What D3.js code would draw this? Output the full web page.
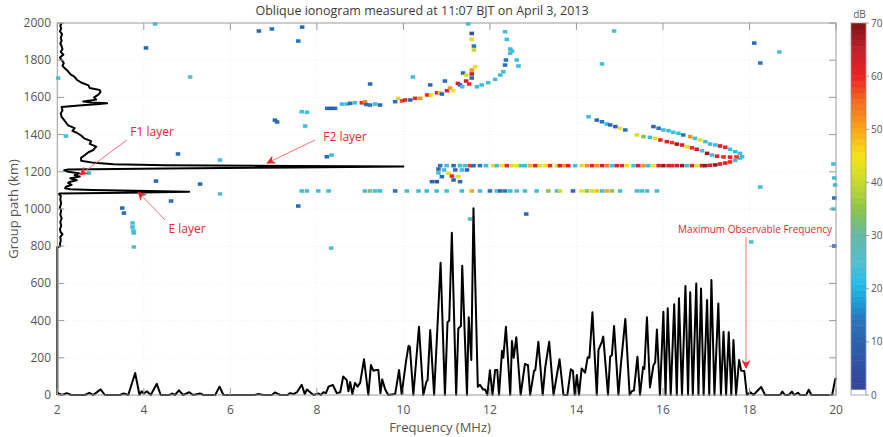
<!DOCTYPE html>
<html><head><meta charset="utf-8">
<script src="https://cdn.jsdelivr.net/npm/d3@7/dist/d3.min.js"></script>
<style>
html,body{margin:0;padding:0;background:#fff;}
svg{display:block;font-family:"Open Sans",sans-serif;}
</style></head><body>
<svg id="chart" width="883" height="437"></svg>
<script>
// ---- tick labels ----
const freqTicks = [2, 4, 6, 8, 10, 12, 14, 16, 18, 20];
const pathTicks = [0, 200, 400, 600, 800, 1000, 1200, 1400, 1600, 1800, 2000];
const dbTicks = [0, 10, 20, 30, 40, 50, 60, 70];

// ---- echo-amplitude spectrum along the bottom: [frequency MHz, amplitude] ----
const spectrum = [[2.00,12],[2.10,0],[2.22,10],[2.33,0],[2.64,0],[2.74,12],[2.83,0],[3.00,30],[3.10,0],[3.45,0],[3.53,8],[3.64,0],[3.80,118],[3.90,0],[3.95,20],[4.00,8],[4.07,20],[4.16,0],[4.30,60],[4.39,0],[4.59,0],[4.65,8],[4.72,0],[4.81,25],[4.91,0],[5.05,15],[5.14,0],[5.30,8],[5.38,0],[5.65,0],[5.75,45],[5.84,0],[6.57,0],[6.65,5],[6.76,0],[6.96,0],[7.03,14],[7.15,0],[7.32,0],[7.38,10],[7.46,5],[7.54,15],[7.65,55],[7.72,5],[7.77,30],[7.92,0],[8.04,8],[8.09,0],[8.15,15],[8.21,10],[8.27,45],[8.37,54],[8.46,10],[8.54,15],[8.61,100],[8.69,80],[8.73,20],[8.77,70],[8.82,5],[8.88,65],[8.94,45],[9.00,65],[9.09,192],[9.19,0],[9.25,161],[9.31,130],[9.37,135],[9.42,135],[9.47,10],[9.51,84],[9.58,30],[9.65,0],[9.81,5],[9.90,134],[9.96,5],[10.06,180],[10.12,265],[10.15,258],[10.23,0],[10.36,367],[10.46,0],[10.53,70],[10.56,80],[10.62,349],[10.71,0],[10.86,711],[10.96,0],[11.02,391],[11.06,400],[11.12,872],[11.22,0],[11.27,358],[11.33,371],[11.36,695],[11.47,0],[11.51,418],[11.57,188],[11.62,1004],[11.72,45],[11.77,55],[11.84,30],[11.89,30],[11.94,0],[12.00,133],[12.06,0],[12.12,134],[12.17,134],[12.21,0],[12.28,238],[12.31,200],[12.37,367],[12.47,0],[12.51,290],[12.55,200],[12.61,310],[12.71,0],[12.81,167],[12.88,160],[12.93,0],[13.02,130],[13.05,135],[13.12,286],[13.22,0],[13.28,150],[13.37,286],[13.47,0],[13.61,192],[13.70,0],[13.79,0],[13.87,138],[13.92,130],[13.96,0],[14.01,107],[14.06,0],[14.12,143],[14.20,120],[14.26,203],[14.30,200],[14.37,445],[14.47,0],[14.51,242],[14.59,287],[14.62,314],[14.73,0],[14.78,206],[14.82,215],[14.87,371],[14.97,0],[15.03,170],[15.13,409],[15.23,0],[15.28,20],[15.33,25],[15.41,206],[15.47,0],[15.54,150],[15.57,140],[15.63,418],[15.70,40],[15.78,160],[15.82,175],[15.86,352],[15.93,0],[16.01,447],[16.06,0],[16.11,466],[16.18,0],[16.26,488],[16.32,0],[16.37,520],[16.44,0],[16.52,586],[16.58,0],[16.63,552],[16.69,0],[16.77,600],[16.82,0],[16.88,572],[16.94,0],[17.02,511],[17.07,0],[17.12,618],[17.19,0],[17.28,492],[17.34,0],[17.40,340],[17.46,0],[17.52,337],[17.58,0],[17.63,296],[17.69,0],[17.76,188],[17.81,130],[17.88,129],[17.94,0],[18.02,15],[18.09,0],[18.27,43],[18.36,0],[18.71,0],[18.76,18],[18.82,0],[18.91,0],[18.98,18],[19.03,0],[19.12,12],[19.17,0],[19.31,0],[19.37,28],[19.43,0],[19.91,0],[19.98,82],[20.00,92]];

// ---- echo-power profile along the left: [group path km, frequency-axis value] ----
const profile = [[0,2.00],[795,2.00],[800,2.07],[810,2.06],[830,2.08],[850,2.07],[865,2.12],[875,2.08],[890,2.06],[910,2.09],[930,2.07],[950,2.10],[970,2.07],[990,2.09],[1010,2.06],[1030,2.09],[1050,2.07],[1070,2.08],[1080,2.04],[1084,2.06],[1088,3.6],[1093,5.05],[1098,3.8],[1102,2.8],[1106,2.3],[1112,2.18],[1120,2.20],[1130,2.33],[1140,2.25],[1147,2.30],[1155,2.45],[1165,2.30],[1174,2.52],[1182,2.40],[1192,2.50],[1200,2.25],[1208,2.16],[1213,2.25],[1218,4.5],[1223,7.5],[1228,10.0],[1231,7.5],[1235,4.5],[1240,3.3],[1248,2.85],[1260,2.55],[1275,2.55],[1290,2.64],[1305,2.72],[1317,2.83],[1335,2.90],[1350,2.75],[1365,2.78],[1380,2.62],[1395,2.55],[1410,2.45],[1420,2.35],[1435,2.40],[1450,2.25],[1465,2.20],[1480,2.15],[1495,2.10],[1515,2.08],[1530,2.12],[1548,2.10],[1556,2.5],[1563,2.9],[1568,3.15],[1573,2.8],[1578,2.6],[1588,2.9],[1600,2.85],[1615,2.95],[1630,3.0],[1640,2.98],[1650,2.75],[1665,2.72],[1680,2.55],[1695,2.45],[1710,2.40],[1725,2.30],[1740,2.25],[1755,2.18],[1770,2.12],[1785,2.15],[1800,2.10],[1815,2.06],[1830,2.14],[1845,2.08],[1860,2.12],[1875,2.10],[1890,2.07],[1905,2.10],[1920,2.08],[1940,2.11],[1955,2.06],[1970,2.09],[1985,2.07],[2000,2.10]];

// ---- ionogram echoes: [frequency MHz, group path km, power dB] ----
const f2LowRay = [[10.85,1233,14],[11.00,1233,24],[11.16,1233,12],[11.31,1233,22],[11.43,1233,25],[11.54,1233,58],[11.62,1233,12],[11.77,1233,14],[11.91,1233,22],[12.08,1233,42],[12.16,1233,24],[12.28,1233,44],[12.39,1233,60],[12.51,1233,42],[12.62,1233,45],[12.72,1233,24],[12.81,1233,22],[12.93,1233,50],[13.05,1233,62],[13.16,1233,42],[13.28,1233,44],[13.39,1233,60],[13.55,1233,42],[13.62,1233,63],[13.72,1233,52],[13.81,1233,62],[13.97,1233,24],[14.12,1233,43],[14.24,1233,52],[14.36,1233,62],[14.47,1233,52],[14.59,1233,64],[14.70,1233,54],[14.82,1233,24],[14.93,1233,62],[15.05,1233,60],[15.17,1233,43],[15.32,1233,24],[15.43,1233,62],[15.55,1233,52],[15.66,1233,24],[15.78,1233,44],[15.90,1233,62],[16.01,1233,68],[16.13,1233,63],[16.21,1233,60],[16.32,1233,64],[16.44,1233,68],[16.55,1233,24],[16.67,1233,62],[16.78,1233,44],[16.90,1233,63],[16.98,1233,68],[17.09,1235,62],[17.21,1237,68],[17.32,1242,63],[17.44,1247,62],[17.55,1253,60],[17.67,1261,24],[17.78,1274,22]];
const f2Foot = [[10.81,1215,12],[10.81,1194,24],[10.89,1174,12],[10.94,1210,22],[11.04,1192,43],[11.12,1177,60],[11.16,1156,12],[11.27,1174,42],[11.31,1147,12],[10.66,1147,10],[10.77,1147,6],[11.20,1210,14],[11.35,1210,24],[11.47,1210,12]];
const f2HighRayA = [[14.28,1496,24],[14.47,1478,12],[14.59,1469,14],[14.70,1457,22],[14.78,1452,12],[14.90,1443,10],[15.01,1434,44],[15.13,1425,14],[15.40,1398,42],[15.55,1389,34],[15.70,1385,24],[15.82,1380,43],[15.94,1371,60],[16.09,1362,62],[16.21,1357,58],[16.32,1349,67],[16.44,1344,62],[16.55,1335,44],[16.67,1329,60],[16.78,1321,63],[16.90,1313,24],[17.02,1299,67],[17.13,1290,24],[17.25,1284,62],[17.40,1280,60],[17.55,1279,62],[17.70,1280,58]];
const f2HighRayB = [[15.78,1443,12],[15.90,1434,14],[16.01,1425,24],[16.13,1421,22],[16.24,1412,24],[16.36,1407,22],[16.47,1398,14],[16.63,1389,52],[16.74,1380,24],[16.86,1371,44],[16.98,1362,24],[17.09,1349,22],[17.21,1344,24],[17.32,1339,62],[17.44,1332,60],[17.55,1321,24],[17.67,1308,22],[17.78,1299,24],[17.83,1281,24]];
const upperTrace = [[8.24,1541,12],[8.33,1541,8],[8.42,1541,12],[8.58,1564,24],[8.69,1564,22],[8.77,1568,12],[8.88,1571,24],[9.04,1571,60],[9.11,1577,52],[9.14,1562,12],[9.23,1559,14],[9.35,1564,24],[9.46,1559,12],[9.81,1577,14],[9.88,1595,42],[9.97,1581,58],[10.04,1586,62],[10.16,1586,12],[10.27,1595,60],[10.39,1595,52],[10.55,1613,60],[10.64,1613,44],[10.62,1667,12],[10.78,1625,62],[10.85,1625,42],[10.89,1618,12],[10.96,1688,12],[11.01,1636,62],[11.08,1650,52],[11.15,1636,44],[11.26,1675,62],[11.31,1667,12],[11.36,1657,24],[11.38,1731,12],[11.45,1688,64],[11.52,1672,60],[11.58,1747,52],[11.58,1726,64],[11.58,1704,12],[11.45,1720,42],[11.66,1765,44],[11.58,1944,6],[11.58,1912,42],[11.63,1876,14],[11.63,1855,40],[11.70,1657,24],[11.81,1667,22],[11.96,1679,24],[12.12,1697,24],[12.24,1720,22],[12.31,1738,24],[12.35,1774,12],[12.37,1801,14],[12.47,1837,24],[12.47,1860,22],[12.51,1849,24],[12.62,1801,24],[12.66,1769,22],[12.35,1953,24],[12.39,1912,22]];
const esTrace = [[7.65,1097,24],[7.77,1097,24],[8.03,1097,24],[8.27,1097,22],[9.11,1097,24],[9.23,1097,32],[9.35,1097,24],[9.46,1097,22],[9.81,1097,14],[10.08,1097,24],[10.35,1097,24],[10.54,1097,22],[10.77,1097,24],[11.00,1097,24],[11.35,1097,22],[11.58,1097,50],[11.77,1097,24],[12.00,1097,14],[12.16,1097,24],[12.24,1097,12],[12.35,1097,14],[12.47,1097,22],[12.62,1097,24],[12.81,1097,24],[13.08,1097,22],[13.35,1097,34],[13.55,1097,24],[13.62,1097,42],[13.92,1097,12],[14.12,1097,44],[14.24,1097,36],[14.36,1097,42],[14.47,1097,48],[14.59,1097,24],[14.70,1097,50],[14.82,1097,34],[15.01,1097,24],[15.40,1097,24],[15.51,1097,22],[15.63,1097,24],[15.86,1097,24]];
const scatterEchoes = [[4.26,1995,24],[6.66,1957,12],[6.96,1968,14],[4.05,1866,12],[7.57,1903,14],[7.66,1978,12],[2.02,1704,24],[5.07,1710,26],[7.03,1478,12],[7.08,1468,12],[2.20,1392,24],[4.79,1296,14],[5.76,1263,24],[2.73,1194,24],[4.28,1150,12],[5.30,1134,12],[5.76,1081,26],[4.63,1043,12],[3.50,1005,12],[3.54,978,12],[3.74,925,24],[3.74,903,22],[3.76,882,24],[3.77,871,24],[3.77,796,26],[7.57,1016,12],[8.23,1281,12],[8.34,1290,22],[8.33,790,26],[12.84,973,12],[11.54,946,26],[11.50,1995,24],[10.22,1710,24],[7.65,1523,24],[7.77,1520,24],[7.73,1446,24],[9.23,1672,12],[14.87,1957,24],[14.59,1780,24],[18.11,1892,12],[18.25,1785,14],[18.69,1844,26],[18.25,1118,24],[18.04,823,26],[19.94,1242,24],[19.96,1167,24],[19.98,1129,22],[19.96,1059,14],[19.94,1000,24],[19.96,801,12]];

// ---- labelled features: text, label anchor, arrow tail, arrow tip (frequency MHz, group path km) ----
const annotations = [
  {text: "F1 layer", at: [4.19, 1414], from: [3.61, 1371], to: [2.52, 1183]},
  {text: "F2 layer", at: [8.65, 1387], from: [7.96, 1371], to: [6.85, 1247]},
  {text: "E layer", at: [5.00, 892], from: [4.49, 941], to: [3.87, 1091]},
  {text: "Maximum Observable Frequency", at: [18.13, 892], from: [17.92, 849], to: [17.92, 145]}
];

// ---- colour map for echo power (dB) ----
const cmapStops = [1.1, 2, 8, 14, 18, 21, 25, 30, 35, 40, 45, 50, 55, 60, 65, 70];
const cmapColors = ["#3a4797", "#34469a", "#2e5aa8", "#2b74bb", "#1fa0da", "#25bde9", "#55bfcf", "#64b9a7", "#8cc44a", "#c6d92f", "#f5e417", "#faa61a", "#f36f21", "#ed2224", "#c1202a", "#7f1416"];

const svg = d3.select("#chart");
const plot = {left: 57.3, right: 836, top: 23, bottom: 395};

const x = d3.scaleLinear().domain([2, 20]).range([plot.left, plot.right]);
const y = d3.scaleLinear().domain([0, 2000]).range([plot.bottom, plot.top]);
const nLevels = 64;
const cInterp = d3.scaleLinear().domain(cmapStops).range(cmapColors).clamp(true);
const levelWidth = 70 / nLevels;
function dbColor(v) {
  const lvl = Math.min(nLevels - 1, Math.floor(v / levelWidth));
  if (lvl <= 0) return "#ffffff";
  return cInterp((lvl + 0.5) * levelWidth);
}

const grey = "#9a9a9a";
const tickText = "#555555";

// faint grid
const grid = svg.append("g");
grid.selectAll("line.gx").data(freqTicks.slice(1, -1)).join("line")
  .attr("x1", d => x(d)).attr("x2", d => x(d)).attr("y1", plot.top).attr("y2", plot.bottom)
  .attr("stroke", "#eeeeee").attr("stroke-width", 0.8).attr("stroke-dasharray", "1,2");
grid.selectAll("line.gy").data(pathTicks.slice(1, -1)).join("line")
  .attr("y1", d => y(d)).attr("y2", d => y(d)).attr("x1", plot.left).attr("x2", plot.right)
  .attr("stroke", "#eeeeee").attr("stroke-width", 0.8).attr("stroke-dasharray", "1,2");

// echo cells
const cellF = 0.105, cellH = 19;
const echoes = [].concat(esTrace, upperTrace, f2Foot, f2LowRay, f2HighRayA, f2HighRayB, scatterEchoes);
svg.append("g").selectAll("rect").data(echoes).join("rect")
  .attr("x", d => x(d[0] - cellF / 2))
  .attr("y", d => y(d[1] + cellH / 2))
  .attr("width", d => x(d[0] + cellF / 2) - x(d[0] - cellF / 2))
  .attr("height", d => y(d[1] - cellH / 2) - y(d[1] + cellH / 2))
  .attr("fill", d => dbColor(d[2]));

// black curves
svg.append("path").datum(profile)
  .attr("d", d3.line().x(d => x(d[1])).y(d => y(d[0])))
  .attr("fill", "none").attr("stroke", "#000").attr("stroke-width", 2).attr("stroke-linejoin", "round");
svg.append("path").datum(spectrum)
  .attr("d", d3.line().x(d => x(d[0])).y(d => y(d[1])))
  .attr("fill", "none").attr("stroke", "#000").attr("stroke-width", 2).attr("stroke-linejoin", "round");

// axes frame with inward ticks
const frame = svg.append("g");
frame.append("rect").attr("x", plot.left).attr("y", plot.top)
  .attr("width", plot.right - plot.left).attr("height", plot.bottom - plot.top)
  .attr("fill", "none").attr("stroke", grey).attr("stroke-width", 1);
const tl = 7;
frame.selectAll("line.tb").data(freqTicks).join("line")
  .attr("x1", d => x(d)).attr("x2", d => x(d)).attr("y1", plot.bottom).attr("y2", plot.bottom - tl)
  .attr("stroke", grey);
frame.selectAll("line.tt").data(freqTicks).join("line")
  .attr("x1", d => x(d)).attr("x2", d => x(d)).attr("y1", plot.top).attr("y2", plot.top + tl)
  .attr("stroke", grey);
frame.selectAll("line.tl").data(pathTicks).join("line")
  .attr("y1", d => y(d)).attr("y2", d => y(d)).attr("x1", plot.left).attr("x2", plot.left + tl)
  .attr("stroke", grey);
frame.selectAll("line.tr").data(pathTicks).join("line")
  .attr("y1", d => y(d)).attr("y2", d => y(d)).attr("x1", plot.right).attr("x2", plot.right - tl)
  .attr("stroke", grey);

// tick labels
svg.append("g").selectAll("text").data(freqTicks).join("text")
  .attr("x", d => x(d)).attr("y", 414).attr("text-anchor", "middle")
  .attr("font-size", 12).attr("fill", tickText).text(d => d);
svg.append("g").selectAll("text").data(pathTicks).join("text")
  .attr("x", 51).attr("y", d => y(d) + 4).attr("text-anchor", "end")
  .attr("font-size", 12).attr("fill", tickText).text(d => d);

// axis titles and chart title
svg.append("text").attr("x", 440).attr("y", 432).attr("text-anchor", "middle")
  .attr("font-size", 13).attr("fill", tickText).text("Frequency (MHz)");
svg.append("text").attr("transform", `translate(18,${(plot.top + plot.bottom) / 2}) rotate(-90)`)
  .attr("text-anchor", "middle").attr("font-size", 13).attr("fill", tickText).text("Group path (km)");
svg.append("text").attr("x", 422).attr("y", 15).attr("text-anchor", "middle")
  .attr("font-size", 12.5).attr("fill", "#3a3a3a").text("Oblique ionogram measured at 11:07 BJT on April 3, 2013");

// annotations
const red = "#e8262d";
const defs = svg.append("defs");
defs.append("marker").attr("id", "head").attr("viewBox", "0 0 10 10")
  .attr("refX", 9).attr("refY", 5).attr("markerWidth", 9).attr("markerHeight", 9)
  .attr("markerUnits", "userSpaceOnUse").attr("orient", "auto")
  .append("path").attr("d", "M0,0 L10,5 L0,10 L3,5 Z").attr("fill", red);
const ann = svg.append("g");
ann.selectAll("line").data(annotations).join("line")
  .attr("x1", d => x(d.from[0])).attr("y1", d => y(d.from[1]))
  .attr("x2", d => x(d.to[0])).attr("y2", d => y(d.to[1]))
  .attr("stroke", "#f27474").attr("stroke-width", 1).attr("marker-end", "url(#head)");
ann.selectAll("text").data(annotations).join("text")
  .attr("x", d => x(d.at[0])).attr("y", d => y(d.at[1]))
  .attr("dy", "0.35em").attr("text-anchor", "middle")
  .attr("font-size", d => d.text.length > 10 ? 10 : 12)
  .attr("fill", red).text(d => d.text);

// colour bar
const cb = {x: 851, w: 15};
const cbY = d3.scaleLinear().domain([0, 70]).range([plot.bottom, plot.top]);
const levels = d3.range(nLevels);
svg.append("g").selectAll("rect").data(levels).join("rect")
  .attr("x", cb.x).attr("width", cb.w)
  .attr("y", d => cbY((d + 1) * levelWidth))
  .attr("height", d => cbY(d * levelWidth) - cbY((d + 1) * levelWidth) + 0.5)
  .attr("fill", d => dbColor((d + 0.5) * levelWidth));
svg.append("rect").attr("x", cb.x).attr("y", plot.top).attr("width", cb.w)
  .attr("height", plot.bottom - plot.top).attr("fill", "none").attr("stroke", grey).attr("stroke-width", 0.8);
svg.append("g").selectAll("line").data(dbTicks).join("line")
  .attr("x1", cb.x + cb.w).attr("x2", cb.x + cb.w + 3)
  .attr("y1", d => cbY(d)).attr("y2", d => cbY(d)).attr("stroke", grey);
svg.append("g").selectAll("text").data(dbTicks).join("text")
  .attr("x", cb.x + cb.w + 5).attr("y", d => cbY(d) + 3.5)
  .attr("font-size", 10).attr("fill", tickText).text(d => d);
svg.append("text").attr("x", cb.x + cb.w / 2 + 1).attr("y", 18).attr("text-anchor", "middle")
  .attr("font-size", 10).attr("fill", tickText).text("dB");
</script>
</body></html>
